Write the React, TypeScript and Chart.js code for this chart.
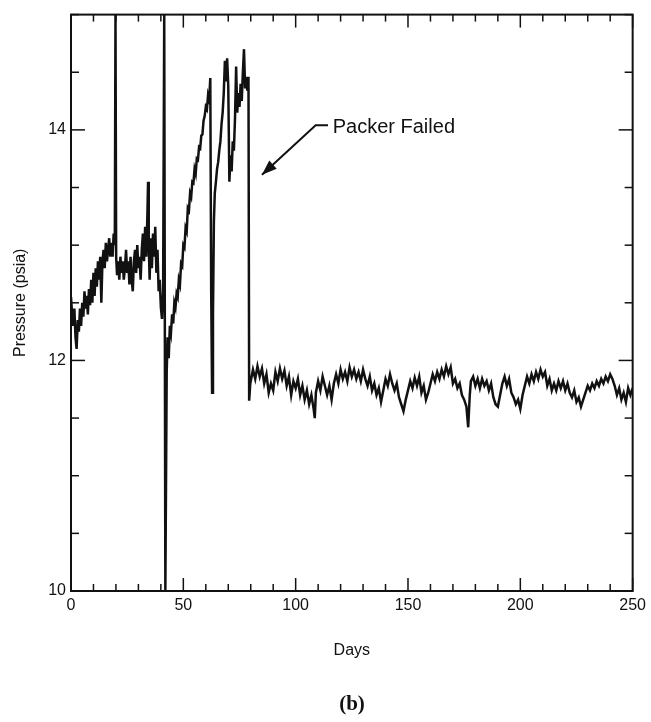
import React, { useEffect, useRef } from "react";
import { Chart, registerables } from "chart.js";

Chart.register(...registerables);

// ---- data ----
const daysA = [0, 0.5, 1, 1.5, 2, 2.5, 3, 3.5, 4, 4.5,
  5, 5.5, 6, 6.5, 7, 7.5, 8, 8.5, 9, 9.5,
  10, 10.5, 11, 11.5, 12, 12.5, 13, 13.5, 14, 14.5,
  15, 15.5, 16, 16.5, 17, 17.5, 18, 18.5, 19, 19.5,
  19.8];
const psiA = [12.55, 12.40, 12.30, 12.45, 12.20, 12.10, 12.35, 12.25, 12.45, 12.30,
  12.50, 12.38, 12.60, 12.45, 12.56, 12.40, 12.62, 12.48, 12.70, 12.50,
  12.76, 12.56, 12.80, 12.64, 12.86, 12.70, 12.90, 12.50, 12.86, 12.96,
  12.80, 13.02, 12.86, 12.96, 13.06, 12.90, 13.02, 12.90, 13.10, 13.00,
  15.00];

const daysB = [20.1, 20.5, 21, 21.5, 22, 22.5, 23, 23.5, 24, 24.5,
  25, 25.5, 26, 26.5, 27, 27.5, 28, 28.5, 29, 29.5,
  30, 30.5, 31, 31.5, 32, 32.5, 33, 33.5, 34, 34.3,
  34.6, 35, 35.5, 36, 36.5, 37, 37.5, 38, 38.5, 39,
  39.5, 40, 40.5, 41];
const psiB = [12.90, 12.74, 12.86, 12.70, 12.90, 12.76, 12.86, 12.70, 12.80, 12.96,
  12.76, 12.86, 12.66, 12.90, 12.70, 12.60, 12.86, 12.96, 12.76, 13.00,
  12.80, 12.90, 12.70, 12.96, 13.10, 12.86, 13.16, 12.90, 13.26, 13.55,
  13.00, 12.70, 13.06, 12.80, 13.10, 12.90, 13.16, 12.76, 12.96, 12.60,
  12.70, 12.46, 12.36, 12.60];

const daysC = [41.5, 42, 42.6, 43, 43.5, 44, 44.5, 45, 45.5, 46,
  46.5, 47, 47.5, 48, 48.5, 49, 49.5, 50, 50.5, 51,
  51.5, 52, 52.5, 53, 53.5, 54, 54.5, 55, 55.5, 56,
  56.5, 57, 57.5, 58, 58.5, 59, 59.5, 60, 60.5, 61,
  61.5, 62, 62.4, 62.8, 63.2, 63.6, 64, 64.5, 65, 65.5,
  66, 66.5, 67, 67.5, 68, 68.5, 69, 69.5, 70, 70.5,
  71, 71.5, 72, 72.5, 73, 73.5, 74, 74.5, 75, 75.5,
  76, 76.5, 77, 77.5, 78, 78.5, 79, 79.3, 79.8];
const psiC = [15.00, 10.00, 11.90, 12.20, 12.02, 12.30, 12.24, 12.40, 12.32, 12.50,
  12.46, 12.58, 12.55, 12.70, 12.66, 12.84, 12.82, 13.00, 12.98, 13.15,
  13.12, 13.32, 13.30, 13.45, 13.42, 13.55, 13.54, 13.66, 13.62, 13.75,
  13.74, 13.85, 13.84, 13.95, 13.96, 14.08, 14.12, 14.20, 14.18, 14.30,
  14.26, 14.45, 12.60, 11.72, 12.40, 13.20, 13.45, 13.55, 13.66, 13.72,
  13.82, 13.90, 14.05, 14.15, 14.32, 14.60, 14.42, 14.62, 14.38, 13.55,
  13.78, 13.64, 13.90, 13.82, 14.10, 14.55, 14.15, 14.32, 14.20, 14.40,
  14.25, 14.50, 14.70, 14.36, 14.46, 14.34, 14.46, 11.65, 11.80];

const daysD = [80, 81, 82, 83, 84, 85, 86, 87, 88, 89,
  90, 91, 92, 93, 94, 95, 96, 97, 98, 99,
  100, 101, 102, 103, 104, 105, 106, 107, 108, 108.5,
  109, 110, 111, 112, 113, 114, 115, 116, 117, 118,
  119, 120, 121, 122, 123, 124, 125, 126, 127, 128,
  129, 130, 131, 132, 133, 134, 135, 136, 137, 138,
  139, 140, 141, 142, 143, 144, 145, 146, 147, 148,
  149, 150, 151, 152, 153, 154, 155, 156, 157, 158,
  159, 160, 161, 162, 163, 164, 165, 166, 167, 168,
  169, 170, 171, 172, 173, 174, 175, 176, 176.8, 177.5,
  178, 179, 180, 181, 182, 183, 184, 185, 186, 187,
  188, 189, 190, 191, 192, 193, 194, 195, 196, 197,
  198, 199, 200, 201, 202, 203, 204, 205, 206, 207,
  208, 209, 210, 211, 212, 213, 214, 215, 216, 217,
  218, 219, 220, 221, 222, 223, 224, 225, 226, 227,
  228, 229, 230, 231, 232, 233, 234, 235, 236, 237,
  238, 239, 240, 241, 242, 243, 244, 245, 246, 247,
  248, 249, 250];
const psiD = [11.80, 11.92, 11.84, 11.95, 11.86, 11.93, 11.80, 11.88, 11.72, 11.80,
  11.74, 11.90, 11.82, 11.93, 11.84, 11.91, 11.78, 11.86, 11.70, 11.82,
  11.76, 11.84, 11.70, 11.78, 11.66, 11.74, 11.62, 11.70, 11.58, 11.50,
  11.72, 11.82, 11.74, 11.86, 11.78, 11.70, 11.78, 11.66, 11.80, 11.88,
  11.80, 11.92, 11.84, 11.90, 11.82, 11.94, 11.86, 11.92, 11.84, 11.90,
  11.82, 11.92, 11.84, 11.78, 11.86, 11.74, 11.80, 11.70, 11.76, 11.64,
  11.74, 11.84, 11.78, 11.88, 11.80, 11.74, 11.80, 11.68, 11.62, 11.56,
  11.66, 11.74, 11.82, 11.76, 11.85, 11.78, 11.86, 11.72, 11.78, 11.66,
  11.72, 11.80, 11.88, 11.82, 11.90, 11.84, 11.92, 11.86, 11.95, 11.88,
  11.94, 11.80, 11.84, 11.76, 11.80, 11.70, 11.66, 11.60, 11.42, 11.70,
  11.82, 11.86, 11.78, 11.84, 11.76, 11.84, 11.78, 11.82, 11.74, 11.80,
  11.68, 11.62, 11.60, 11.70, 11.80, 11.86, 11.78, 11.84, 11.72, 11.68,
  11.62, 11.66, 11.58, 11.70, 11.78, 11.86, 11.80, 11.88, 11.82, 11.90,
  11.84, 11.92, 11.86, 11.90, 11.78, 11.84, 11.74, 11.80, 11.74, 11.82,
  11.76, 11.82, 11.74, 11.80, 11.72, 11.68, 11.74, 11.64, 11.68, 11.60,
  11.66, 11.72, 11.78, 11.74, 11.80, 11.76, 11.82, 11.78, 11.84, 11.80,
  11.86, 11.82, 11.88, 11.84, 11.78, 11.70, 11.76, 11.66, 11.72, 11.64,
  11.76, 11.70, 11.76];

const days = [...daysA, ...daysB, ...daysC, ...daysD];
const pressure = [...psiA, ...psiB, ...psiC, ...psiD];

const xRange = [0, 250];
const yRange = [10, 15];
const xTickStep = 10;
const xLabelEvery = 50;
const yTickStep = 0.5;
const yLabels = [10, 12, 14];

const noteText = "Packer Failed";
const noteAt = [116.5, 14.02];
const arrowPts = [[114.4, 14.04], [108.9, 14.04], [85.0, 13.61]];

const INK = "#111111";
const SANS = "'Liberation Sans', Arial, sans-serif";

const framePlugin = {
  id: "frameTicks",
  afterDatasetsDraw(chart: any) {
    const { ctx, chartArea: a, scales } = chart;
    const x = scales.x;
    const y = scales.y;
    ctx.save();
    ctx.strokeStyle = INK;
    ctx.lineWidth = 2;
    ctx.strokeRect(a.left, a.top, a.right - a.left, a.bottom - a.top);
    ctx.lineWidth = 1.5;
    const seg = (x1: number, y1: number, x2: number, y2: number) => {
      ctx.beginPath();
      ctx.moveTo(x1, y1);
      ctx.lineTo(x2, y2);
      ctx.stroke();
    };
    x.ticks.forEach((t: any) => {
      const px = x.getPixelForValue(t.value);
      const len = Math.abs(t.value % xLabelEvery) < 1e-6 ? 13 : 7;
      seg(px, a.bottom, px, a.bottom - len);
      seg(px, a.top, px, a.top + len);
    });
    y.ticks.forEach((t: any) => {
      const py = y.getPixelForValue(t.value);
      const len = yLabels.includes(t.value) ? 14 : 8;
      seg(a.left, py, a.left + len, py);
      seg(a.right, py, a.right - len, py);
    });

    // annotation
    ctx.fillStyle = INK;
    ctx.font = `20px ${SANS}`;
    ctx.textAlign = "left";
    ctx.textBaseline = "middle";
    ctx.fillText(noteText, x.getPixelForValue(noteAt[0]), y.getPixelForValue(noteAt[1]));
    const pts = arrowPts.map((p) => [x.getPixelForValue(p[0]), y.getPixelForValue(p[1])]);
    ctx.lineWidth = 2;
    ctx.beginPath();
    ctx.moveTo(pts[0][0], pts[0][1]);
    for (let i = 1; i < pts.length; i++) ctx.lineTo(pts[i][0], pts[i][1]);
    ctx.stroke();
    const tip = pts[pts.length - 1];
    const prev = pts[pts.length - 2];
    const ang = Math.atan2(tip[1] - prev[1], tip[0] - prev[0]);
    const L = 15;
    const W = 5.5;
    ctx.beginPath();
    ctx.moveTo(tip[0], tip[1]);
    ctx.lineTo(tip[0] - L * Math.cos(ang) + W * Math.sin(ang), tip[1] - L * Math.sin(ang) - W * Math.cos(ang));
    ctx.lineTo(tip[0] - L * Math.cos(ang) - W * Math.sin(ang), tip[1] - L * Math.sin(ang) + W * Math.cos(ang));
    ctx.closePath();
    ctx.fill();
    ctx.restore();
  },
};

export default function App() {
  const ref = useRef<HTMLCanvasElement | null>(null);

  useEffect(() => {
    if (!ref.current) return;
    const n = Math.min(days.length, pressure.length);
    const pts = [];
    for (let i = 0; i < n; i++) pts.push({ x: days[i], y: pressure[i] });
    const chart = new Chart(ref.current, {
      type: "line",
      data: {
        datasets: [
          {
            data: pts,
            borderColor: INK,
            borderWidth: 2.5,
            pointRadius: 0,
            tension: 0,
            fill: false,
          },
        ],
      },
      options: {
        animation: false,
        responsive: false,
        maintainAspectRatio: false,
        devicePixelRatio: 1,
        layout: { padding: { top: 12, right: 18, left: 0, bottom: 0 } },
        plugins: { legend: { display: false }, tooltip: { enabled: false } },
        scales: {
          x: {
            type: "linear",
            min: xRange[0],
            max: xRange[1],
            grid: { display: false, drawTicks: false },
            border: { display: false },
            ticks: {
              stepSize: xTickStep,
              autoSkip: false,
              maxRotation: 0,
              padding: 5,
              color: INK,
              font: { family: SANS, size: 16 },
              callback: (v: any) => (Math.abs(Number(v) % xLabelEvery) < 1e-6 ? String(v) : ""),
            },
            title: {
              display: true,
              text: "Days",
              color: INK,
              font: { family: SANS, size: 16 },
              padding: { top: 0, bottom: 62 },
            },
            afterFit: (s: any) => {
              s.height = 131;
            },
          },
          y: {
            type: "linear",
            min: yRange[0],
            max: yRange[1],
            grid: { display: false, drawTicks: false },
            border: { display: false },
            ticks: {
              stepSize: yTickStep,
              autoSkip: false,
              padding: 5,
              color: INK,
              font: { family: SANS, size: 16 },
              callback: (v: any) => (yLabels.includes(Number(v)) ? String(v) : ""),
            },
            title: {
              display: true,
              text: "Pressure (psia)",
              color: INK,
              font: { family: SANS, size: 16 },
              padding: { top: 11, bottom: 0 },
            },
            afterFit: (s: any) => {
              s.width = 71;
            },
          },
        },
      },
      plugins: [framePlugin],
    });
    return () => chart.destroy();
  }, []);

  return (
    <div style={{ position: "absolute", left: 0, top: 0, width: 651, height: 722, background: "#fff" }}>
      <canvas ref={ref} width={651} height={722} style={{ display: "block", width: 651, height: 722 }} />
      <div
        style={{
          position: "absolute",
          left: 0,
          width: 704,
          top: 690,
          textAlign: "center",
          fontFamily: "'Liberation Serif', 'Times New Roman', serif",
          fontWeight: "bold",
          fontSize: 21,
          lineHeight: "26px",
          color: INK,
        }}
      >
        (b)
      </div>
    </div>
  );
}
